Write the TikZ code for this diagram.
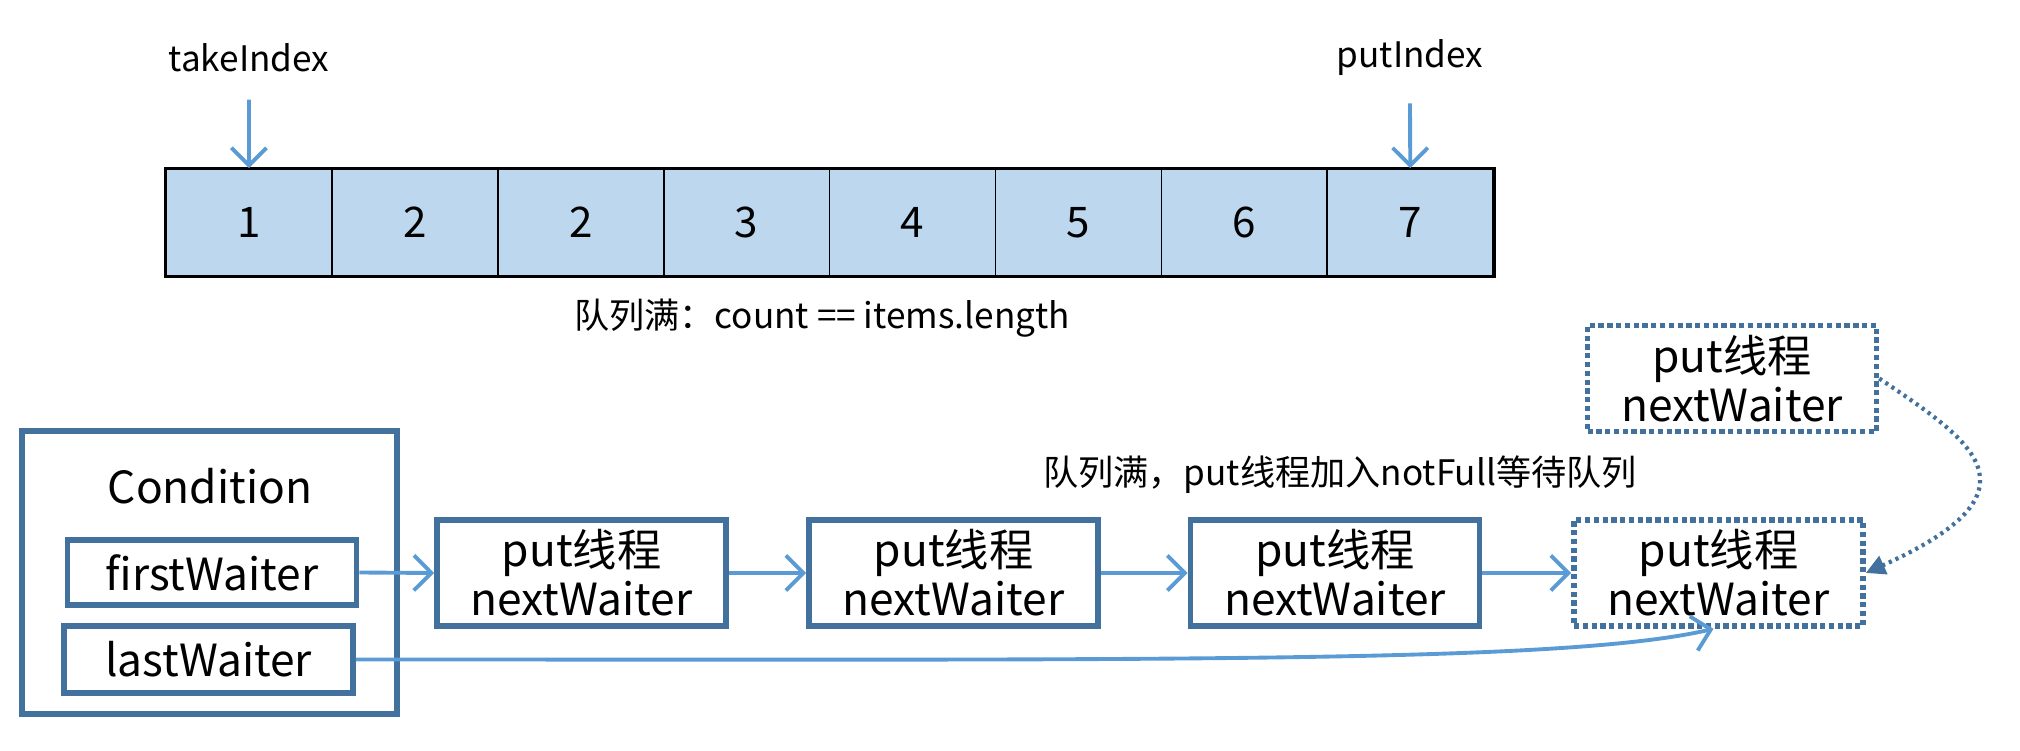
\documentclass[tikz,border=0pt]{standalone}
\usepackage{fontspec}
\setmainfont{Noto Sans CJK SC}
\usepackage{xcolor}
\definecolor{Lineblue}{HTML}{41719C}
\definecolor{Arrowblue}{HTML}{5B9BD5}
\definecolor{Cellblue}{HTML}{BDD7EE}
\usetikzlibrary{arrows.meta}
\tikzstyle{arrow} = [
    line width=1.1pt,
    Arrowblue,
    -{Straight Barb[length=5pt,width=10pt]}
]
\tikzstyle{dotarrow} = [
    line width=1.2pt,
    Lineblue,
    dash pattern=on 0.9pt off 1.2pt,
    -{Triangle[length=5.5pt,width=5.5pt]}
]
\tikzstyle{cell} = [
    draw,
    line width=0.5pt,
    fill=Cellblue,
    minimum width=1.659cm,
    minimum height=1.07cm,
    inner sep=0pt,
    font=\fontsize{12}{14}\selectfont
]
\tikzstyle{waitbox} = [
    draw=Lineblue,
    line width=1.6pt,
    minimum width=2.89cm,
    minimum height=1.06cm,
    inner sep=1pt,
    align=center,
    font=\fontsize{12.6}{14}\selectfont
]
\tikzstyle{dotbox} = [
    waitbox,
    dash pattern=on 1.5pt off 1pt
]

\begin{document}
\begin{tikzpicture}
    \useasboundingbox (0,0) rectangle (20.2,7.5);
    % Array
    \foreach \v [count=\i] in {1,2,2,3,4,5,6,7}
        \node[cell] (c\i) at ({1.66+(\i-0.5)*1.659},5.275) {\v};
    \draw[line width=0.9pt] (c1.north west) rectangle (c8.south east);
    % Indexes
    \node[font=\fontsize{10}{12}\selectfont] (take) at (2.49,6.92) {takeIndex};
    \draw[arrow] ([yshift=-0.15cm]take.south) -- (c1.north);
    \node[font=\fontsize{10}{12}\selectfont] (put) at (14.10,6.92) {putIndex};
    \draw[arrow] ([yshift=-0.15cm]put.south) -- (c8.north);
    \node[font=\fontsize{10}{12}\selectfont] (full) at (8.22,4.32) {队列满：count == items.length};
    % Condition
    \node[draw=Lineblue, line width=1.6pt, minimum width=3.75cm, minimum height=2.83cm] (cond) at (2.095,1.775) {};
    \node[font=\fontsize{12.6}{14}\selectfont] (condname) at (2.10,2.64) {Condition};
    \node[waitbox, minimum height=0.65cm] (first) at (2.12,1.775) {firstWaiter};
    \node[waitbox, minimum height=0.67cm] (last) at (2.085,0.905) {lastWaiter};
    % Waiters
    \node[waitbox] (w1) at (5.815,1.77) {put线程\\nextWaiter};
    \node[waitbox] (w2) at (9.535,1.77) {put线程\\nextWaiter};
    \node[waitbox] (w3) at (13.35,1.77) {put线程\\nextWaiter};
    \node[dotbox] (w4) at (17.185,1.77) {put线程\\nextWaiter};
    \node[dotbox] (new) at (17.32,3.715) {put线程\\nextWaiter};
    \node[font=\fontsize{10}{12}\selectfont] (join) at (13.40,2.75) {队列满，put线程加入notFull等待队列};
    % Links
    \draw[arrow] (first.east) -- (w1.west);
    \draw[arrow] (w1) -- (w2);
    \draw[arrow] (w2) -- (w3);
    \draw[arrow] (w3) -- (w4);
    \draw[arrow] (last.east) .. controls +(8,0) and +(-1.5,-0.35) .. ([xshift=-0.05cm]w4.south);
    \draw[dotarrow] (new.east) .. controls (19.7,3.1) and (20.5,2.6) .. (w4.east);
\end{tikzpicture}
\end{document}
